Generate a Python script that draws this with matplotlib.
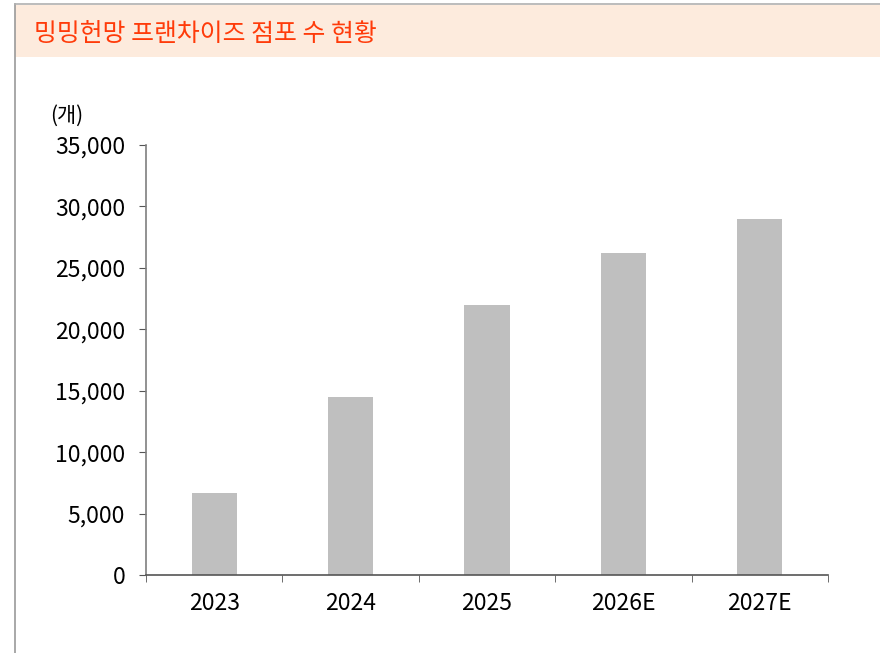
import matplotlib
matplotlib.use("Agg")
import matplotlib.pyplot as plt
from matplotlib.patches import Rectangle
from matplotlib.lines import Line2D
from matplotlib.ticker import FuncFormatter, MultipleLocator

plt.rcParams['font.family'] = ['Noto Sans CJK KR', 'DejaVu Sans']

title = "밍밍헌망 프랜차이즈 점포 수 현황"
unit_label = "(개)"
categories = ["2023", "2024", "2025", "2026E", "2027E"]
stores = [6700, 14500, 22000, 26200, 29000]

W, H = 880, 653
fig = plt.figure(figsize=(W / 100, H / 100), dpi=100)

# header band and frame
fig.patches.append(Rectangle((15 / W, 1 - 57 / H), 1 - 15 / W, 52 / H,
                             transform=fig.transFigure, facecolor="#FDEBDD",
                             edgecolor="none", zorder=0))
fig.lines.append(Line2D([15 / W, 15 / W], [0, 1 - 4 / H], transform=fig.transFigure,
                        color="#9a9a9a", lw=1.2))
fig.lines.append(Line2D([15 / W, 1], [1 - 4 / H, 1 - 4 / H], transform=fig.transFigure,
                        color="#b0b0b0", lw=1.2))
fig.text(34 / W, 1 - 34 / H, title, color="#FF3B0A", fontsize=17.9,
         va="center", ha="left")

ax = fig.add_axes([146 / W, 1 - 575 / H, (828 - 146) / W, (575 - 145) / H])
x = list(range(len(categories)))
ax.bar(x, stores, width=0.33, color="#BFBFBF", zorder=2)
ax.set_xlim(-0.5, len(categories) - 0.5)
ax.set_ylim(0, 35000)
ax.yaxis.set_major_locator(MultipleLocator(5000))
ax.yaxis.set_major_formatter(FuncFormatter(lambda v, p: f"{int(v):,}"))
ax.set_xticks(x)
ax.set_xticklabels(categories)
ax.set_xticks([i - 0.5 for i in range(len(categories) + 1)], minor=True)
ax.tick_params(axis="x", which="major", length=0, pad=12, labelsize=16.5)
ax.tick_params(axis="x", which="minor", length=5, direction="out", color="#555555")
ax.tick_params(axis="y", length=5, direction="out", color="#555555", labelsize=16.5, pad=10)
for s in ["top", "right"]:
    ax.spines[s].set_visible(False)
ax.spines["left"].set_color("#7f7f7f")
ax.spines["bottom"].set_color("#555555")
ax.spines["left"].set_linewidth(1.2)
ax.spines["bottom"].set_linewidth(1.2)

fig.text(50 / W, 1 - 116 / H, unit_label, fontsize=15, va="center", ha="left")

fig.savefig("out.png", dpi=100)
